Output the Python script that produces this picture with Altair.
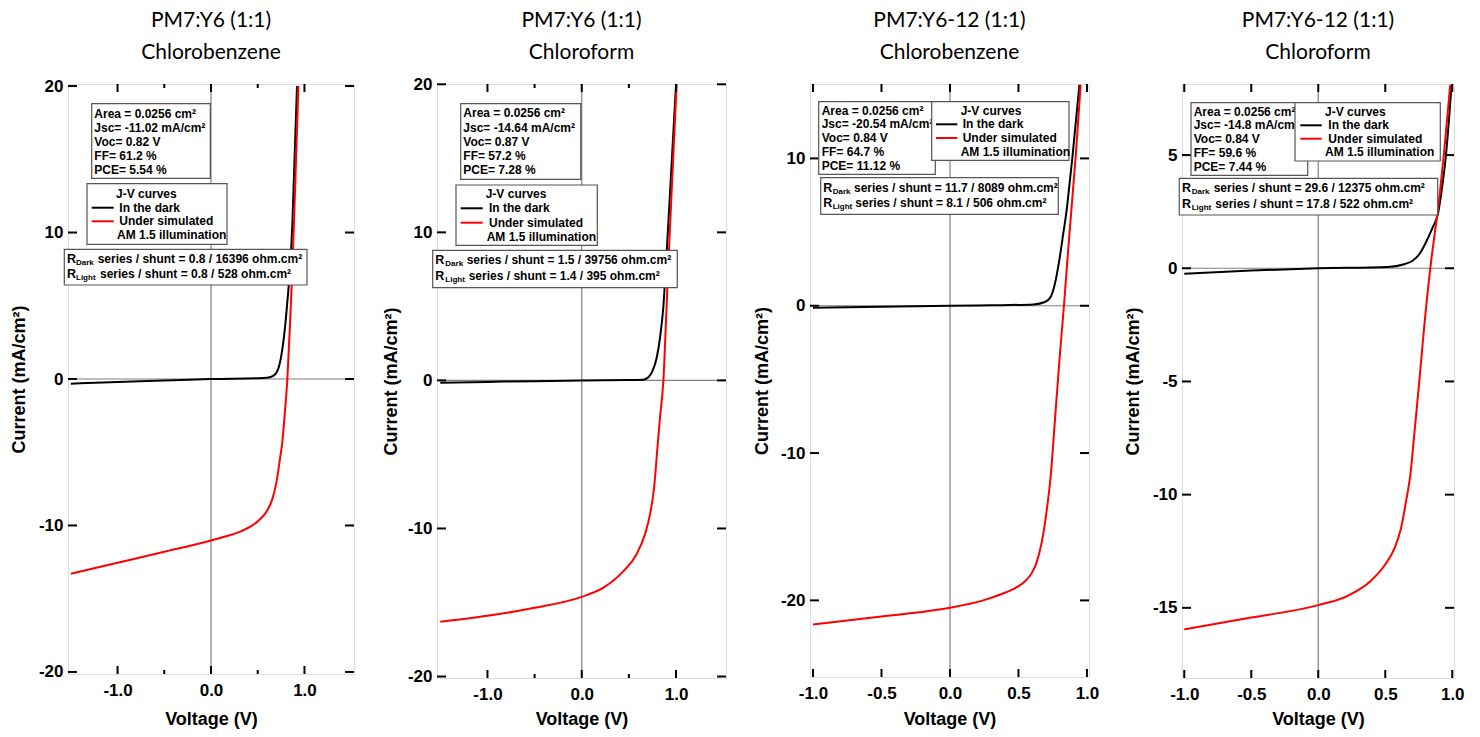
import altair as alt
import pandas as pd

# ---------------- data ----------------
titles = [["PM7:Y6 (1:1)", "Chlorobenzene"], ["PM7:Y6 (1:1)", "Chloroform"],
          ["PM7:Y6-12 (1:1)", "Chlorobenzene"], ["PM7:Y6-12 (1:1)", "Chloroform"]]

p1_dark_v = [-1.5, -1.0, -0.5, 0.0, 0.5, 0.6, 0.67, 0.72, 0.76, 0.79, 0.82, 0.845, 0.87, 0.92]
p1_dark_j = [-0.32, -0.2, -0.1, 0.0, 0.05, 0.09, 0.23, 0.7, 1.9, 3.4, 5.5, 7.5, 10.5, 20.0]
p1_light_v = [-1.5, -1.0, -0.5, 0.0, 0.17, 0.32, 0.43, 0.53, 0.60, 0.656, 0.70, 0.738, 0.763, 0.79, 0.817,
              0.846, 0.87, 0.90, 0.935]
p1_light_j = [-13.3, -12.55, -11.8, -11.02, -10.72, -10.4, -10.05, -9.54, -9.0, -8.2, -7.06, -5.46, -4.31, -2.3, 0.0,
              3.8, 7.5, 13.0, 20.0]

p2_dark_v = [-1.5, -1.0, -0.5, 0.0, 0.5, 0.65, 0.707, 0.75, 0.795, 0.83, 0.866, 0.895, 0.92, 1.0]
p2_dark_j = [-0.16, -0.1, -0.05, 0.0, 0.02, 0.05, 0.22, 0.63, 1.53, 2.88, 5.0, 8.0, 10.8, 20.0]
p2_light_v = [-1.5, -1.0, -0.5, 0.0, 0.23, 0.44, 0.58, 0.67, 0.724, 0.767, 0.80, 0.83, 0.866, 0.90, 0.93, 0.97, 1.007]
p2_light_j = [-16.3, -15.9, -15.36, -14.62, -14.0, -12.9, -11.76, -10.4, -9.05, -7.25, -4.77, -2.52, 0.0, 5.0, 9.5,
              15.0, 20.0]

p3_dark_v = [-1.0, -0.5, 0.0, 0.3, 0.61, 0.693, 0.735, 0.766, 0.798, 0.827, 0.852, 0.872, 0.893, 0.945]
p3_dark_j = [-0.14, -0.07, 0.0, 0.03, 0.09, 0.25, 0.59, 1.49, 3.08, 4.89, 6.5, 8.2, 10.0, 15.0]
p3_light_v = [-1.0, -0.5, 0.0, 0.243, 0.41, 0.47, 0.51, 0.56, 0.60, 0.633, 0.669, 0.706, 0.735, 0.766, 0.80, 0.832,
              0.864, 0.895, 0.92, 0.954]
p3_light_j = [-21.63, -21.09, -20.5, -20.0, -19.45, -19.2, -18.98, -18.6, -18.1, -17.4, -16.1, -13.9, -11.6, -7.8,
              -3.6, 0.0, 3.9, 7.5, 10.4, 15.0]

p4_dark_v = [-1.0, -0.5, 0.0, 0.517, 0.642, 0.704, 0.754, 0.803, 0.853, 0.893, 0.92, 0.953, 0.995]
p4_dark_j = [-0.24, -0.1, 0.0, 0.06, 0.18, 0.33, 0.62, 1.14, 1.8, 2.4, 3.4, 5.0, 8.1]
p4_light_v = [-1.0, -0.5, 0.0, 0.219, 0.393, 0.493, 0.567, 0.617, 0.654, 0.687, 0.716, 0.754, 0.791, 0.836, 0.866,
              0.893, 0.94, 0.985]
p4_light_j = [-15.95, -15.43, -14.88, -14.47, -13.8, -13.14, -12.4, -11.5, -10.33, -9.14, -7.37, -5.0, -2.55, 0.0, 1.4,
              2.6, 5.2, 8.1]

stats = [
    ["Area = 0.0256 cm²", "Jsc= -11.02 mA/cm²", "Voc= 0.82 V", "FF= 61.2 %", "PCE= 5.54 %"],
    ["Area = 0.0256 cm²", "Jsc= -14.64 mA/cm²", "Voc= 0.87 V", "FF= 57.2 %", "PCE= 7.28 %"],
    ["Area = 0.0256 cm²", "Jsc= -20.54 mA/cm²", "Voc= 0.84 V", "FF= 64.7 %", "PCE= 11.12 %"],
    ["Area = 0.0256 cm²", "Jsc= -14.8 mA/cm²", "Voc= 0.84 V", "FF= 59.6 %", "PCE= 7.44 %"],
]
legend_lines = ["J-V curves", "In the dark", "Under simulated", "AM 1.5 illumination"]
r_dark = ["series / shunt = 0.8 / 16396 ohm.cm²", "series / shunt = 1.5 / 39756 ohm.cm²",
          "series / shunt = 11.7 / 8089 ohm.cm²", "series / shunt = 29.6 / 12375 ohm.cm²"]
r_light = ["series / shunt = 0.8 / 528 ohm.cm²", "series / shunt = 1.4 / 395 ohm.cm²",
           "series / shunt = 8.1 / 506 ohm.cm²", "series / shunt = 17.8 / 522 ohm.cm²"]

curves = [(p1_dark_v, p1_dark_j, p1_light_v, p1_light_j),
          (p2_dark_v, p2_dark_j, p2_light_v, p2_light_j),
          (p3_dark_v, p3_dark_j, p3_light_v, p3_light_j),
          (p4_dark_v, p4_dark_j, p4_light_v, p4_light_j)]

# ---------------- layout (pixels) ----------------
FONT = "Liberation Sans"
TFONT = "Lato"
ONE = pd.DataFrame({"k": [0]})

cfgs = [
    dict(W=286, H=590, xdom=[-1.53, 1.53], ydom=[-20.14, 20.14], xmaj=[-1, 0, 1], xmin=[-0.5, 0.5],
         ymaj=[-20, -10, 0, 10, 20], L=67, ytx=-49,
         sbox=(23.7, 19.7, 142.3, 94.3), sx=26.3, sy=[29.5, 43.5, 57.5, 71.5, 85.5],
         lbox=(19, 99.7, 159, 160.3), lx=[48, 51.3, 51.3, 49], ly=[109.7, 123.7, 137.3, 151], lsx=(23.7, 45.7),
         rbox=(-3.7, 165.3, 239, 201), rx=[-1, 8, 29.7, 32], ry=[174.7, 189.7]),
    dict(W=289, H=594, xdom=[-1.535, 1.53], ydom=[-20.1, 20.02], xmaj=[-1, 0, 1], xmin=[-0.5, 0.5],
         ymaj=[-20, -10, 0, 10, 20], L=80, ytx=-46,
         sbox=(23.7, 19.7, 143.7, 95.3), sx=26.3, sy=[29.3, 43.7, 57.7, 72, 85.7],
         lbox=(19, 101, 160.3, 161.3), lx=[48.7, 52, 52, 49.7], ly=[110.3, 124.3, 138.7, 152.7], lsx=(23.7, 45.7),
         rbox=(-4.3, 166.3, 240.3, 203.7), rx=[-1.7, 8.3, 29.7, 31.7], ry=[176, 192]),
    dict(W=279, H=593, xdom=[-1.022, 1.015], ydom=[-25.2, 15.05], xmaj=[-1, -0.5, 0, 0.5, 1], xmin=[],
         ymaj=[-20, -10, 0, 10], L=81, ytx=-48,
         sbox=(8.7, 17.7, 125.3, 90.3), sx=11.7, sy=[27, 40.3, 54.3, 67.7, 81.7],
         lbox=(121.7, 17.7, 259, 76.3), lx=[150.7, 152.7, 152.7, 150.7], ly=[27, 40.3, 54, 67.7], lsx=(126, 147.3),
         rbox=(10.7, 93.7, 248.3, 130.3), rx=[13.3, 22.7, 44, 45.3], ry=[103.7, 119]),
    dict(W=272, H=594, xdom=[-1.017, 1.013], ydom=[-18.1, 8.14], xmaj=[-1, -0.5, 0, 0.5, 1], xmin=[],
         ymaj=[-15, -10, -5, 0, 5], L=81, ytx=-49,
         sbox=(9, 18.7, 125.7, 91.3), sx=11.7, sy=[28, 41.3, 55.3, 68.7, 82.7],
         lbox=(113, 18.7, 258.3, 77), lx=[143, 146.3, 146.3, 143], ly=[28, 41.3, 54.7, 68], lsx=(118.3, 139.7),
         rbox=(-2.7, 94.3, 255.7, 131), rx=[0, 9.7, 31.7, 33.3], ry=[104.3, 119.7]),
]

BOXFS = 12


def T(x, y, s, size=BOXFS, align="left", font=FONT, weight="bold"):
    return alt.Chart(ONE).mark_text(align=align, baseline="middle", font=font, fontWeight=weight,
                                    fontSize=size, color="black").encode(
        x=alt.value(x), y=alt.value(y), text=alt.value(s))


def BOX(b, stroke="#555", sw=1.2):
    return alt.Chart(ONE).mark_rect(fill="white", stroke=stroke, strokeWidth=sw).encode(
        x=alt.value(b[0]), y=alt.value(b[1]), x2=alt.value(b[2]), y2=alt.value(b[3]))


def SEG(x1, y1, x2, y2, color="black", sw=2.0, opacity=1.0):
    return alt.Chart(ONE).mark_rule(color=color, strokeWidth=sw, opacity=opacity).encode(
        x=alt.value(x1), y=alt.value(y1), x2=alt.value(x2), y2=alt.value(y2))


def panel(i):
    c = cfgs[i]
    W, H = c["W"], c["H"]
    xs = alt.Scale(domain=c["xdom"], nice=False, zero=False)
    ys = alt.Scale(domain=c["ydom"], nice=False, zero=False)
    xaxis = alt.Axis(values=c["xmaj"], title="Voltage (V)", domain=False, ticks=False, tickSize=0, grid=False,
                     labelExpr="datum.value < 0 ? '-' + format(-datum.value, '.1f') : format(datum.value, '.1f')",
                     labelFont=FONT, labelFontSize=17, labelFontWeight="bold", labelColor="black",
                     labelPadding=8, labelFlush=False, labelOverlap=False, labelBaseline="top",
                     titleFont=FONT, titleFontSize=18, titleFontWeight="bold", titleColor="black",
                     titleBaseline="middle", titleY=718 - 83 - H, titleX=W / 2)
    yaxis = alt.Axis(values=c["ymaj"], title="Current (mA/cm²)", domain=False, ticks=False, tickSize=0, grid=False,
                     labelExpr="datum.value < 0 ? '-' + format(-datum.value, 'd') : format(datum.value, 'd')",
                     labelFont=FONT, labelFontSize=17, labelFontWeight="bold", labelColor="black",
                     labelPadding=5, labelFlush=False, labelOverlap=False,
                     titleFont=FONT, titleFontSize=18, titleFontWeight="bold", titleColor="black",
                     titleAngle=270, titleBaseline="middle", titleX=c["ytx"], titleY=H / 2)

    def X(f):
        return alt.X(f, type="quantitative", scale=xs, axis=xaxis)

    def Y(f):
        return alt.Y(f, type="quantitative", scale=ys, axis=yaxis)

    dv, dj, lv, lj = curves[i]
    df = pd.DataFrame({
        "V": list(dv) + list(lv),
        "J": list(dj) + list(lj),
        "s": ["dark"] * len(dv) + ["light"] * len(lv),
        "o": list(range(len(dv))) + list(range(len(lv))),
    })
    zero = pd.DataFrame({"v": [0.0]})
    layers = []
    layers.append(alt.Chart(zero).mark_rule(color="#808080", strokeWidth=1.2).encode(x=X("v")))
    layers.append(alt.Chart(zero).mark_rule(color="#808080", strokeWidth=1.2).encode(y=Y("v")))
    layers.append(alt.Chart(df).mark_line(strokeWidth=2, interpolate="monotone").encode(
        x=X("V"), y=Y("J"),
        color=alt.Color("s:N", scale=alt.Scale(domain=["dark", "light"], range=["#000000", "#ff0000"]), legend=None),
        order="o:Q"))
    # inward ticks
    xm = pd.DataFrame({"v": c["xmaj"]})
    layers.append(alt.Chart(xm).mark_rule(color="black", strokeWidth=2).encode(
        x=X("v"), y=alt.value(H), y2=alt.value(H - 8)))
    layers.append(alt.Chart(xm).mark_rule(color="black", strokeWidth=2).encode(
        x=X("v"), y=alt.value(0), y2=alt.value(8)))
    if c["xmin"]:
        xn = pd.DataFrame({"v": c["xmin"]})
        layers.append(alt.Chart(xn).mark_rule(color="black", strokeWidth=2).encode(
            x=X("v"), y=alt.value(H), y2=alt.value(H - 4)))
        layers.append(alt.Chart(xn).mark_rule(color="black", strokeWidth=2).encode(
            x=X("v"), y=alt.value(0), y2=alt.value(4)))
    ym = pd.DataFrame({"v": c["ymaj"]})
    layers.append(alt.Chart(ym).mark_rule(color="black", strokeWidth=2).encode(
        y=Y("v"), x=alt.value(0), x2=alt.value(9)))
    layers.append(alt.Chart(ym).mark_rule(color="black", strokeWidth=2).encode(
        y=Y("v"), x=alt.value(W), x2=alt.value(W - 9)))

    # stats box
    layers.append(BOX(c["sbox"]))
    for k, s in enumerate(stats[i]):
        layers.append(T(c["sx"], c["sy"][k], s))
    # legend box
    layers.append(BOX(c["lbox"]))
    for k, s in enumerate(legend_lines):
        layers.append(T(c["lx"][k], c["ly"][k], s))
    layers.append(SEG(c["lsx"][0], c["ly"][1], c["lsx"][1], c["ly"][1], color="black"))
    layers.append(SEG(c["lsx"][0], c["ly"][2], c["lsx"][1], c["ly"][2], color="#ff0000"))
    # resistance box
    layers.append(BOX(c["rbox"]))
    rx, ry = c["rx"], c["ry"]
    layers.append(T(rx[0], ry[0], "R", size=12.5))
    layers.append(T(rx[1], ry[0] + 4, "Dark", size=8))
    layers.append(T(rx[2], ry[0], r_dark[i]))
    layers.append(T(rx[0], ry[1], "R", size=12.5))
    layers.append(T(rx[1], ry[1] + 4, "Light", size=8))
    layers.append(T(rx[3], ry[1], r_light[i]))
    # titles
    layers.append(T(W / 2, -63, titles[i][0], size=21, align="center", font=TFONT, weight="normal"))
    layers.append(T(W / 2, -31, titles[i][1], size=21, align="center", font=TFONT, weight="normal"))
    # invisible pin for layout
    layers.append(SEG(-c["L"], -83, -c["L"], -82, color="white", sw=0.1, opacity=0))

    return alt.layer(*layers).properties(width=W, height=H)


chart = alt.hconcat(*[panel(i) for i in range(4)], spacing=0).properties(padding=0).configure_view(
    stroke="black", strokeWidth=2).configure(background="white")

chart.save("out.html", embed_options={"renderer": "svg", "actions": False})
